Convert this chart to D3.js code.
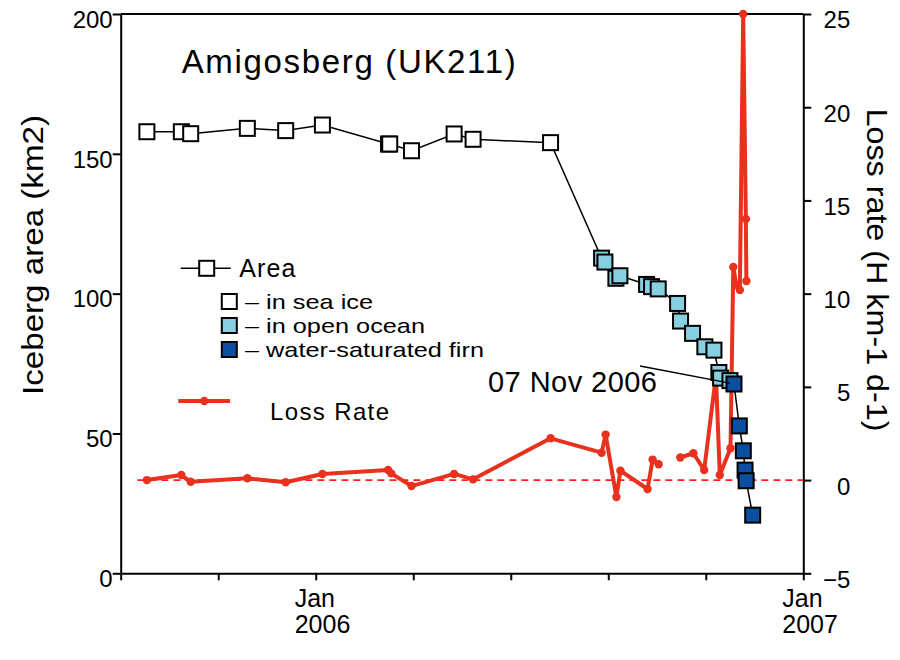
<!DOCTYPE html>
<html><head><meta charset="utf-8">
<script src="https://cdn.jsdelivr.net/npm/d3@7"></script>
<style>
body{margin:0;background:#fff;}
svg{display:block;font-family:"Liberation Sans",Arial,Helvetica,sans-serif;}
</style></head><body>
<svg id="chart" width="900" height="660"></svg>
<script>
// ---- data (days since 1 Jan 2006) ----
const areaDays = [-126.4,-100.6,-93.6,-51.2,-22.5,5.0,54.5,55.4,71.7,103.6,117.8,175.8,
  214.0,216.5,224.7,227.7,247.7,251.4,256.4,270.9,273.1,282.1,291.3,298.1,301.8,303.1,310.1,
  313.1,317.1,320.1,321.4,322.2,327.1];
const areaValues = [157.9,157.9,157.2,159.1,158.3,160.3,153.5,153.5,151.1,157.1,155.2,154.0,
  112.7,111.3,105.5,106.4,103.3,102.5,101.7,96.5,90.2,85.8,81.0,79.8,71.8,69.8,68.9,
  67.7,52.7,43.8,36.9,33.1,20.8];
const areaState = [0,0,0,0,0,0,0,0,0,0,0,0, 1,1,1,1,1,1,1,1,1,1,1,1,1,1,1, 2,2,2,2,2,2];

const lossDays = [-126.4,-100.6,-93.6,-51.2,-22.5,5.0,54.2,56.5,71.7,103.6,117.8,175.8,
  214.0,217.0,225.1,228.1,248.4,252.2,256.7,264,272.9,282.7,290.8,299.6,302.5,310.5,312.6,
  314.9,317.5,320.0,322.0,322.4];
const lossValues = [0.0,0.27,-0.09,0.10,-0.12,0.33,0.54,0.36,-0.32,0.33,0.04,2.24,
  1.47,2.44,-0.91,0.50,-0.48,1.10,0.85,null,1.21,1.44,0.54,5.6,0.27,1.71,11.43,
  10.47,10.2,25,14.0,10.68];

const xTickDays = [-146,-73,0,73,146,219,292,365];
const xLabelDays = [0,365];
const xLabelLines = [["Jan","2006"],["Jan","2007"]];
const areaTicks = [0,50,100,150,200];
const lossTicks = [-5,0,5,10,15,20,25];
const stateNames = ["\u2013 in sea ice","\u2013 in open ocean","\u2013 water-saturated firn"];
const stateColors = ["#ffffff","#88cfe1","#0c4e9f"];
const titleText = "Amigosberg (UK211)";
const leftTitle = "Iceberg area (km2)";
const rightTitle = "Loss rate (H km-1 d-1)";
const annotationText = "07 Nov 2006";
const annotationDay = 310, annotationArea = 68;

// ---- scales ----
const svg = d3.select("#chart");
const x = d3.scaleLinear().domain([-146,365]).range([120.7,803.3]);
const yA = d3.scaleLinear().domain([0,200]).range([573.3,14]);
const yL = d3.scaleLinear().domain([-5,25]).range([573.3,14]);
const red = "#e8321e";

// frame top line
svg.append("line").attr("x1",x.range()[0]).attr("x2",x.range()[1])
  .attr("y1",yA(200)).attr("y2",yA(200)).attr("stroke","#000").attr("stroke-width",2);

// axes
const gL = svg.append("g").attr("transform",`translate(${x.range()[0]},0)`)
  .call(d3.axisLeft(yA).tickValues(areaTicks).tickSize(8).tickSizeOuter(0).tickPadding(0));
const gR = svg.append("g").attr("transform",`translate(${x.range()[1]},0)`)
  .call(d3.axisRight(yL).tickValues(lossTicks).tickSize(8).tickSizeOuter(0));
const gB = svg.append("g").attr("transform",`translate(0,${yA(0)})`)
  .call(d3.axisBottom(x).tickValues(xTickDays).tickFormat("").tickSize(7).tickSizeOuter(0));
[gL,gR,gB].forEach(g=>{
  g.selectAll("path,line").attr("stroke","#000").attr("stroke-width",2);
  g.selectAll("text").attr("fill","#000").style("font-size","24px")
   .style("font-family","'Liberation Sans',Arial,sans-serif");
});
gL.selectAll("text").attr("dy","0.55em");
gR.selectAll("text").attr("x",47).attr("text-anchor","end").attr("dy","0.58em");

// x labels
xLabelDays.forEach((d,i)=>{
  xLabelLines[i].forEach((t,j)=>{
    svg.append("text").attr("x",x(d)-21).attr("y",607+j*25.5)
      .attr("font-size",25).attr("fill","#000").text(t);
  });
});

// axis titles
svg.append("text").attr("transform",`translate(32,255) rotate(-90)`)
  .attr("text-anchor","middle").attr("dominant-baseline","central")
  .attr("font-size",30).attr("textLength",280).attr("lengthAdjust","spacingAndGlyphs").text(leftTitle);
svg.append("text").attr("transform",`translate(877,270) rotate(90)`)
  .attr("text-anchor","middle").attr("dominant-baseline","central")
  .attr("font-size",30).attr("textLength",323).attr("lengthAdjust","spacingAndGlyphs").text(rightTitle);

// title
svg.append("text").attr("x",181.7).attr("y",73).attr("font-size",33)
  .attr("textLength",334).attr("lengthAdjust","spacing").text(titleText);

// zero dashed line
svg.append("line").attr("x1",x(-133.5)).attr("x2",x(365))
  .attr("y1",yL(0)).attr("y2",yL(0)).attr("stroke","#ff1f1f")
  .attr("stroke-width",1.6).attr("stroke-dasharray","7,5");

// loss rate
const lossData = lossDays.map((d,i)=>({d, v: lossValues[i]}));
svg.append("path").datum(lossData)
  .attr("d", d3.line().defined(p=>p.v!=null).x(p=>x(p.d)).y(p=>yL(p.v)))
  .attr("fill","none").attr("stroke",red).attr("stroke-width",4).attr("stroke-linejoin","round");
svg.append("g").selectAll("circle").data(lossData.filter(p=>p.v!=null)).join("circle")
  .attr("cx",p=>x(p.d)).attr("cy",p=>yL(p.v)).attr("r",4.2).attr("fill",red);

// area
const areaData = areaDays.map((d,i)=>({d, v: areaValues[i], s: areaState[i]}));
svg.append("path").datum(areaData)
  .attr("d", d3.line().x(p=>x(p.d)).y(p=>yA(p.v)))
  .attr("fill","none").attr("stroke","#000").attr("stroke-width",1.5);
const sq = 15;
svg.append("g").selectAll("rect").data(areaData).join("rect")
  .attr("x",p=>x(p.d)-sq/2).attr("y",p=>yA(p.v)-sq/2).attr("width",sq).attr("height",sq)
  .attr("fill",p=>stateColors[p.s]).attr("stroke","#000").attr("stroke-width",2);

// annotation
svg.append("line").attr("x1",640).attr("y1",366)
  .attr("x2",x(annotationDay)).attr("y2",yA(annotationArea))
  .attr("stroke","#000").attr("stroke-width",1.5);
svg.append("text").attr("x",488).attr("y",392).attr("font-size",29)
  .attr("textLength",169).attr("lengthAdjust","spacing").text(annotationText);

// legend
const lg = svg.append("g");
lg.append("line").attr("x1",180.7).attr("x2",230.7).attr("y1",268.3).attr("y2",268.3)
  .attr("stroke","#000").attr("stroke-width",1.5);
lg.append("rect").attr("x",206.7-sq/2).attr("y",268.3-sq/2).attr("width",sq).attr("height",sq)
  .attr("fill","#fff").attr("stroke","#000").attr("stroke-width",2);
lg.append("text").attr("x",239.3).attr("y",277).attr("font-size",25)
  .attr("textLength",56).attr("lengthAdjust","spacing").text("Area");
const legY = [301.5,325.5,349.5];
const legW = [128,180,239];
stateNames.forEach((n,i)=>{
  lg.append("rect").attr("x",229.3-sq/2).attr("y",legY[i]-sq/2).attr("width",sq).attr("height",sq)
    .attr("fill",stateColors[i]).attr("stroke","#000").attr("stroke-width",2);
  lg.append("text").attr("x",245).attr("y",legY[i]+7.5).attr("font-size",21)
    .attr("textLength",legW[i]).attr("lengthAdjust","spacingAndGlyphs").text(n);
});
lg.append("line").attr("x1",178.3).attr("x2",230).attr("y1",401).attr("y2",401)
  .attr("stroke",red).attr("stroke-width",4);
lg.append("circle").attr("cx",204.3).attr("cy",401).attr("r",4.2).attr("fill",red);
lg.append("text").attr("x",270).attr("y",420).attr("font-size",24)
  .attr("textLength",119).attr("lengthAdjust","spacing").text("Loss Rate");
</script>
</body></html>
